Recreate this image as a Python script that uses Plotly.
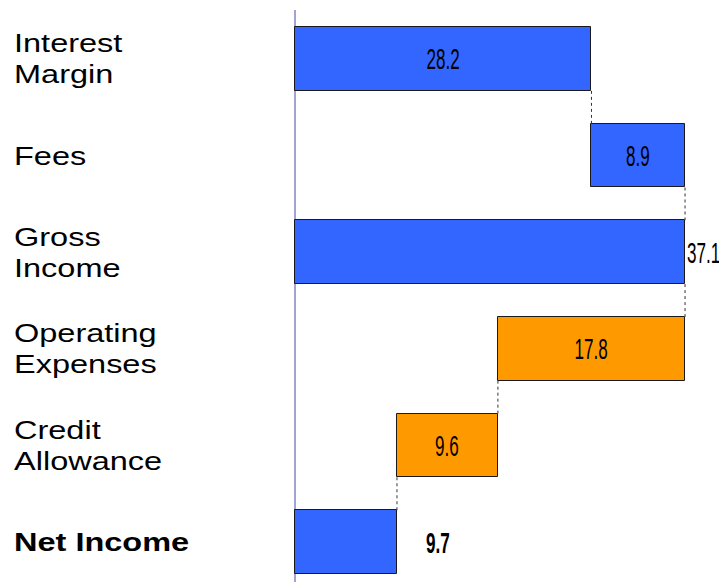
import json
import plotly.graph_objects as go

# Income bridge: each step starts where the previous one ended
categories = [["Interest", "Margin"], ["Fees"], ["Gross", "Income"], ["Operating", "Expenses"],
              ["Credit", "Allowance"], ["<b>Net Income</b>"]]
values = [28.2, 8.9, 37.1, 17.8, 9.6, 9.7]
bases = [0.0, 28.2, 0.0, 19.3, 9.7, 0.0]
kinds = ["gain", "gain", "total", "cost", "cost", "total"]
value_labels = ["28.2", "8.9", "37.1", "17.8", "9.6", "<b>9.7</b>"]
label_inside = [True, True, False, True, True, False]

BLUE = "#3366FF"
ORANGE = "#FF9900"
colors = [ORANGE if k == "cost" else BLUE for k in kinds]

pos = list(range(len(values)))
BAR_W = 0.66

fig = go.Figure()
fig.add_trace(go.Bar(
    y=pos, x=values, base=bases, orientation="h", width=BAR_W,
    marker=dict(color=colors, line=dict(color="#1a1a1a", width=1)),
    hoverinfo="skip", showlegend=False,
))

# dotted connectors between consecutive bars
for i in range(len(values) - 1):
    if kinds[i + 1] == "cost":
        level = bases[i + 1] + values[i + 1]
    else:
        level = bases[i] + values[i] if kinds[i] != "cost" else bases[i]
    fig.add_trace(go.Scatter(
        x=[level, level], y=[i + BAR_W / 2, i + 1 - BAR_W / 2], mode="lines",
        line=dict(color="#333333", width=1, dash="dot"),
        hoverinfo="skip", showlegend=False,
    ))

annotations = []
# horizontal scale factor and anchor for each annotation (applied after render)
x_scales = []
x_anchors = []

VALUE_FONT = dict(family="Liberation Sans, Arial", size=30, color="black")
for i, (b, v, txt, inside) in enumerate(zip(bases, values, value_labels, label_inside)):
    if inside:
        annotations.append(dict(x=b + v / 2, y=i, xref="x", yref="y", text=txt,
                                showarrow=False, xanchor="center", yanchor="middle",
                                font=VALUE_FONT))
        x_anchors.append("center")
    else:
        shift = 0 if i < len(values) - 1 else 27
        annotations.append(dict(x=b + v, y=i, xref="x", yref="y", text=txt,
                                showarrow=False, xanchor="left", yanchor="middle",
                                xshift=shift, font=VALUE_FONT))
        x_anchors.append("left")
    x_scales.append(0.57)

LINE_GAP = 31
CAT_FONT = dict(family="Liberation Sans, Arial", size=26, color="black")
for i, lines in enumerate(categories):
    n = len(lines)
    for k, line in enumerate(lines):
        offset = ((n - 1) / 2 - k) * LINE_GAP
        annotations.append(dict(x=0.017, y=i, xref="paper", yref="y", text=line,
                                showarrow=False, xanchor="left", yanchor="middle",
                                yshift=offset, font=CAT_FONT))
        x_anchors.append("left")
        x_scales.append(1.25)

fig.update_layout(
    width=719, height=582,
    margin=dict(l=0, r=0, t=10, b=0),
    paper_bgcolor="white", plot_bgcolor="white",
    xaxis=dict(range=[-28.06, 40.33], showgrid=False, showticklabels=False,
               zeroline=True, zerolinecolor="#a3a3d6", zerolinewidth=2, ticks=""),
    yaxis=dict(range=[5.414, -0.507], showgrid=False, showticklabels=False,
               zeroline=False, ticks=""),
    annotations=annotations,
    bargap=0,
)

# stretch/condense annotation text horizontally around its anchor
stretch_js = (
    "var gd = document.getElementById('{plot_id}');"
    "var sc = " + json.dumps(x_scales) + ";"
    "var an = " + json.dumps(x_anchors) + ";"
    "gd.querySelectorAll('g.annotation').forEach(function(g){"
    "  var idx = +g.getAttribute('data-index');"
    "  var t = g.querySelector('text.annotation-text');"
    "  if (!t || isNaN(idx)) return;"
    "  var bb = t.getBBox();"
    "  var ax = an[idx] === 'left' ? bb.x : bb.x + bb.width / 2;"
    "  var tr = 'translate(' + ax + ',0) scale(' + sc[idx] + ',1) translate(' + (-ax) + ',0)';"
    "  t.setAttribute('transform', tr);"
    "  var r = g.querySelector('rect.bg');"
    "  if (r) r.setAttribute('transform', tr);"
    "});"
)

fig.write_html("out.html", post_script=stretch_js)
